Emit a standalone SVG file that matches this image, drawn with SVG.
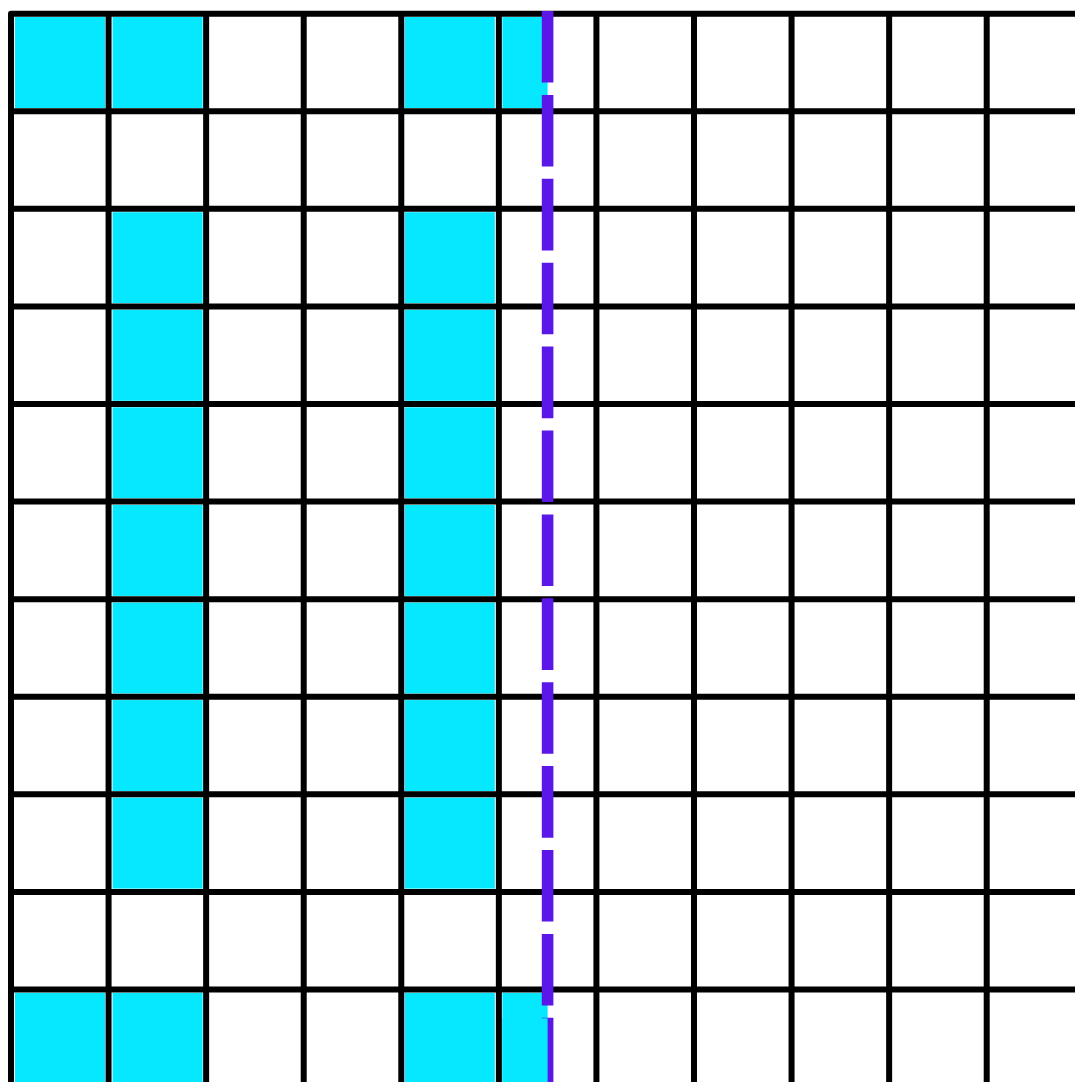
<svg xmlns="http://www.w3.org/2000/svg" width="1075" height="1082" viewBox="0 0 1075 1082">
<style>
.cell{fill:#06E8FF}
.grid{stroke:#000;stroke-width:6;fill:none}
.dash{stroke:#5B17E8;stroke-width:11.6;stroke-dasharray:71.6 12.3;fill:none}
</style>
<rect width="1075" height="1082" fill="#fff"/>
<g id="cells">
<rect class="cell" x="15" y="17" width="90" height="91"/>
<rect class="cell" x="112.6" y="17" width="90" height="91"/>
<rect class="cell" x="404.8" y="17" width="90" height="91"/>
<rect class="cell" x="502.4" y="17" width="45.2" height="91"/>
<rect class="cell" x="112.6" y="212.2" width="90" height="91"/>
<rect class="cell" x="404.8" y="212.2" width="90" height="91"/>
<rect class="cell" x="112.6" y="309.8" width="90" height="91"/>
<rect class="cell" x="404.8" y="309.8" width="90" height="91"/>
<rect class="cell" x="112.6" y="407.3" width="90" height="91"/>
<rect class="cell" x="404.8" y="407.3" width="90" height="91"/>
<rect class="cell" x="112.6" y="504.9" width="90" height="91"/>
<rect class="cell" x="404.8" y="504.9" width="90" height="91"/>
<rect class="cell" x="112.6" y="602.5" width="90" height="91"/>
<rect class="cell" x="404.8" y="602.5" width="90" height="91"/>
<rect class="cell" x="112.6" y="700.1" width="90" height="91"/>
<rect class="cell" x="404.8" y="700.1" width="90" height="91"/>
<rect class="cell" x="112.6" y="797.6" width="90" height="91"/>
<rect class="cell" x="404.8" y="797.6" width="90" height="91"/>
<rect class="cell" x="15" y="992.8" width="90" height="95"/>
<rect class="cell" x="112.6" y="992.8" width="90" height="95"/>
<rect class="cell" x="404.8" y="992.8" width="90" height="95"/>
<rect class="cell" x="502.4" y="992.8" width="45.2" height="95"/>
</g>
<g id="grid" class="grid">
<path d="M11 1090 L11 13.7 L1080 13.7" stroke-linejoin="round"/>
<path d="M108.57 13.7V1090M206.14 13.7V1090M303.71 13.7V1090M401.28 13.7V1090M498.85 13.7V1090M596.42 13.7V1090M693.99 13.7V1090M791.56 13.7V1090M889.13 13.7V1090M986.7 13.7V1090"/>
<path d="M11 111.28H1080M11 208.86H1080M11 306.44H1080M11 404.02H1080M11 501.6H1080M11 599.18H1080M11 696.76H1080M11 794.34H1080M11 891.92H1080M11 989.5H1080"/>
</g>
<g id="connectors">
<path class="dash" d="M547.6 11V1090"/>
</g>
<rect class="cell" x="502.4" y="1018.3" width="45.2" height="70"/>
</svg>
